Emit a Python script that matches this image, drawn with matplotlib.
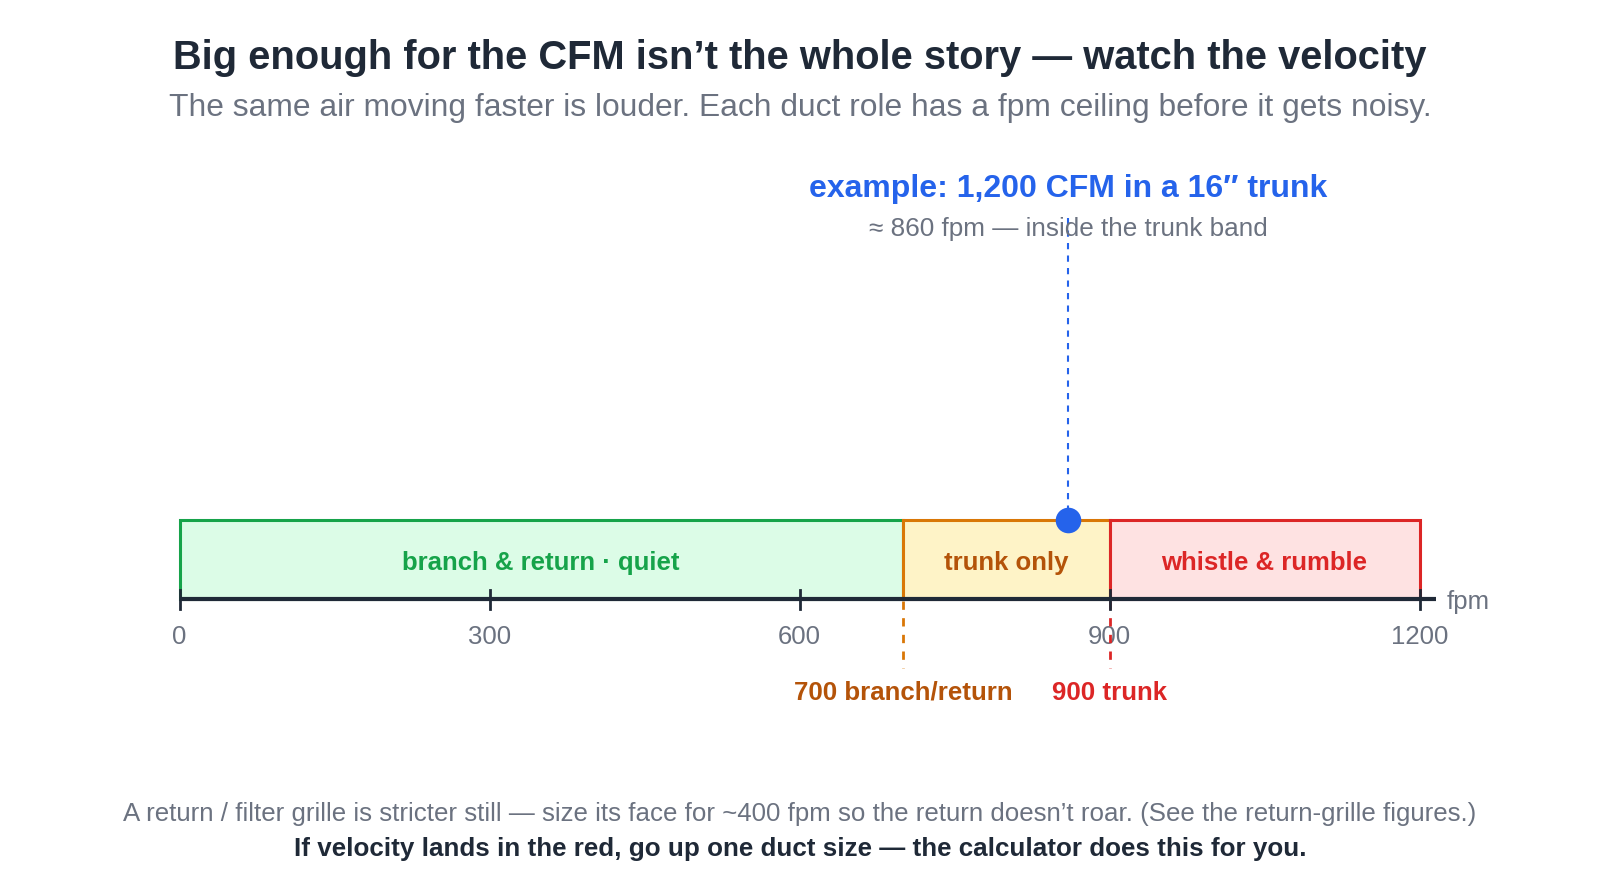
import matplotlib
matplotlib.use("Agg")
import matplotlib.pyplot as plt
from matplotlib.patches import Rectangle

plt.rcParams['font.family'] = ['Liberation Sans', 'DejaVu Sans']

# velocity bands (fpm)
band_names = ["branch & return · quiet", "trunk only", "whistle & rumble"]
band_start = [0, 700, 900]
band_end = [700, 900, 1200]
band_fill = ["#dcfce7", "#fef3c7", "#fee2e2"]
band_edge = ["#16a34a", "#d97706", "#dc2626"]
band_text = ["#16a34a", "#b45309", "#dc2626"]

ticks = [0, 300, 600, 900, 1200]
limits = [700, 900]
limit_labels = ["700 branch/return", "900 trunk"]
limit_colors = ["#d97706", "#dc2626"]
limit_text = ["#b45309", "#dc2626"]

example_fpm = 860

fig = plt.figure(figsize=(16, 8.8), dpi=100)
ax = fig.add_axes([0, 0, 1, 1])
# x in fpm, y in pixels from the top
scale = 1240 / 1200
ax.set_xlim(-179.5 / scale, (1600 - 179.5) / scale)
ax.set_ylim(880, 0)
ax.axis('off')

dark = "#1f2937"
gray = "#6b7280"
blue = "#2563eb"

fig.text(0.5, 1 - 58 / 880, "Big enough for the CFM isn’t the whole story — watch the velocity",
         ha='center', va='center', fontsize=28.7, fontweight='bold', color=dark)
fig.text(0.5, 1 - 108 / 880, "The same air moving faster is louder. Each duct role has a fpm ceiling before it gets noisy.",
         ha='center', va='center', fontsize=22.9, color=gray)

top, base = 520, 599
for s, e, f, ec, tc, name in zip(band_start, band_end, band_fill, band_edge, band_text, band_names):
    ax.add_patch(Rectangle((s, top), e - s, base - top, facecolor=f, edgecolor=ec, lw=2.2, zorder=2))
    ax.text((s + e) / 2, 563, name, ha='center', va='center', fontsize=18.5,
            fontweight='bold', color=tc, zorder=4)

# axis line and ticks
ax.plot([0, 1216], [base, base], color=dark, lw=3, zorder=5, solid_capstyle='butt')
for t in ticks:
    ax.plot([t, t], [590, 609], color=dark, lw=2, zorder=5)
    ax.text(t, 637, str(t), ha='center', va='center', fontsize=18.5, color=gray)
ax.text(1226, 602, "fpm", ha='left', va='center', fontsize=18.5, color=gray)

# ceilings
for v, lab, c, tc in zip(limits, limit_labels, limit_colors, limit_text):
    ax.plot([v, v], [base + 2, 668], color=c, lw=2, ls=(0, (3, 3)), zorder=4)
    ax.text(v, 693, lab, ha='center', va='center', fontsize=18.6, fontweight='bold', color=tc)

# example point
ax.plot([example_fpm, example_fpm], [218, top], color=blue, lw=1.5, ls=(0, (3, 3)), zorder=3)
ax.scatter([example_fpm], [top], s=340, color=blue, zorder=6, linewidths=0)
ax.text(example_fpm, 189, "example: 1,200 CFM in a 16″ trunk", ha='center', va='center',
        fontsize=23, fontweight='bold', color=blue)
ax.text(example_fpm, 229, "≈ 860 fpm — inside the trunk band", ha='center', va='center',
        fontsize=18.8, color=gray)

fig.text(0.5, 1 - 814 / 880,
         "A return / filter grille is stricter still — size its face for ~400 fpm so the return doesn’t roar. (See the return-grille figures.)",
         ha='center', va='center', fontsize=18.6, color=gray)
fig.text(0.5, 1 - 849 / 880,
         "If velocity lands in the red, go up one duct size — the calculator does this for you.",
         ha='center', va='center', fontsize=18.7, fontweight='bold', color=dark)

fig.savefig("out.png", dpi=100)
